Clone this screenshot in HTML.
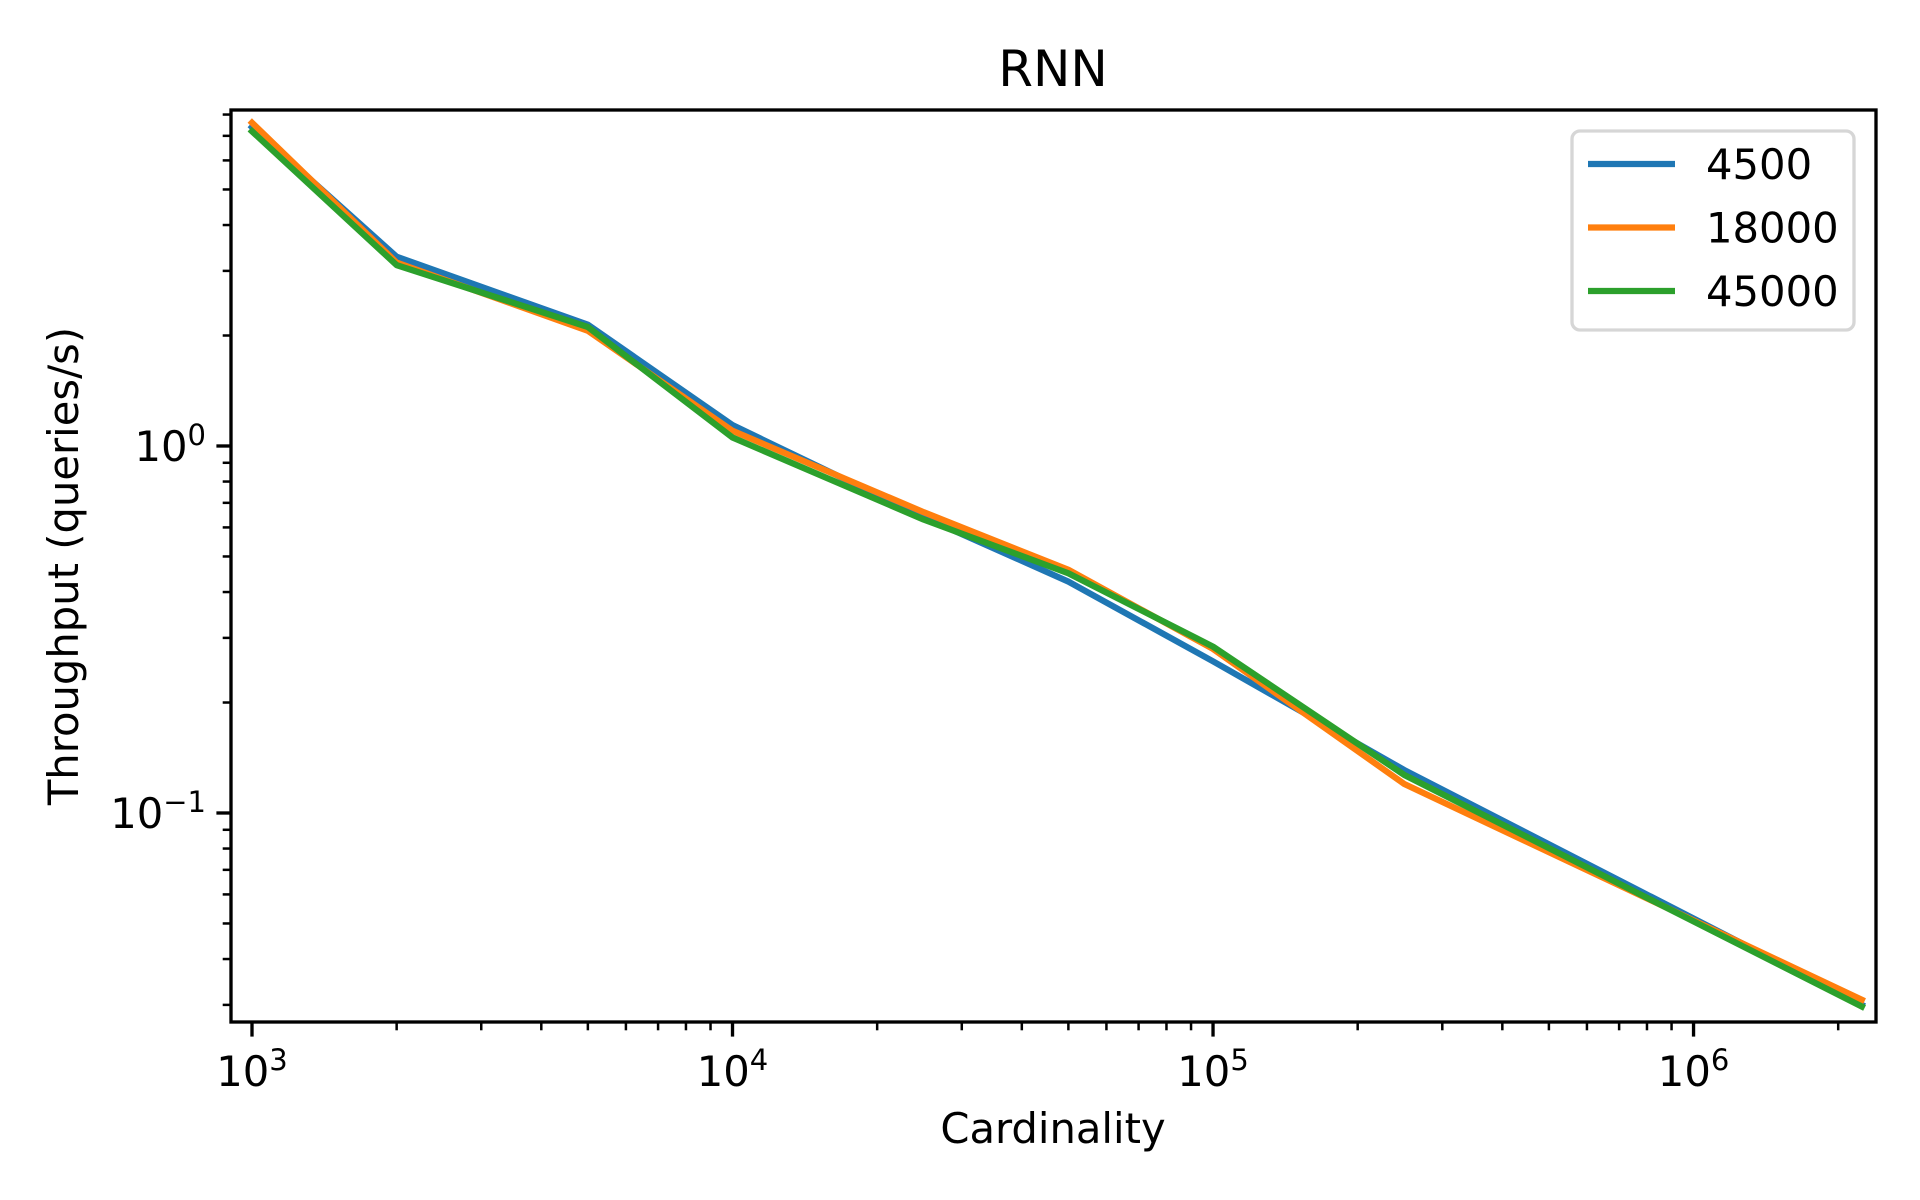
<!DOCTYPE html>
<html><head><meta charset="utf-8"><style>
html,body{margin:0;padding:0;background:#fff}
svg{display:block;font-family:"DejaVu Sans","Liberation Sans",sans-serif}
</style></head><body>
<svg id="chart" width="1920" height="1200" viewBox="0 0 1920 1200" xmlns="http://www.w3.org/2000/svg">
<rect width="1920" height="1200" fill="#fff"/>
<text x="1053" y="86" font-size="50" text-anchor="middle">RNN</text>
<text x="1053" y="1143" font-size="41.7" text-anchor="middle">Cardinality</text>
<text transform="translate(78,566) rotate(-90)" font-size="41.7" text-anchor="middle">Throughput (queries/s)</text>
<g id="plot"></g>
<rect x="231" y="110" width="1645" height="912" fill="none" stroke="#000" stroke-width="3.33"/>
<g>
<rect x="1572" y="131" width="282" height="199" rx="8" fill="#fff" fill-opacity="0.8" stroke="#d6d6d6" stroke-width="3.33"/>
<g id="legend-items"></g>
</g>
</svg>
<script>
const categories = [1000, 2000, 5000, 10000, 25000, 50000, 100000, 250000, 2240000];
const seriesNames = ["4500", "18000", "45000"];
const seriesColors = ["#1f77b4", "#ff7f0e", "#2ca02c"];
const s4500 = [7.4, 3.28, 2.14, 1.14, 0.64, 0.427, 0.259, 0.131, 0.030];
const s18000 = [7.6, 3.16, 2.06, 1.10, 0.66, 0.46, 0.28, 0.12, 0.031];
const s45000 = [7.2, 3.11, 2.11, 1.055, 0.63, 0.45, 0.284, 0.127, 0.0297];
const xTickExps = [3, 4, 5, 6];
const yTickExps = [-1, 0];

const NS = "http://www.w3.org/2000/svg";
const L = 231, R = 1876, T = 110, B = 1022;
const xMin = 2.9563, xMax = 6.3797, yMin = -1.5695, yMax = 0.9155;
function xs(v){ return L + (Math.log10(v) - xMin) / (xMax - xMin) * (R - L); }
function ys(v){ return B - (Math.log10(v) - yMin) / (yMax - yMin) * (B - T); }
const plot = document.getElementById('plot');
function mk(tag, attrs, parent){ const e = document.createElementNS(NS, tag); for (const k in attrs) e.setAttribute(k, attrs[k]); (parent||plot).appendChild(e); return e; }

for (let e = 2; e <= 6; e++) {
  for (let m = 1; m <= 9; m++) {
    const v = m * Math.pow(10, e);
    const lv = Math.log10(v);
    if (lv < xMin - 1e-9 || lv > xMax) continue;
    const x = xs(v);
    const len = m === 1 ? 14.6 : 8.3;
    const t = mk('line', {x1:x, x2:x, y1:B, y2:B+len, stroke:'#000', 'stroke-width': m===1?3.33:2.5});
    
    
  }
}
xTickExps.forEach(e => {
  const x = xs(Math.pow(10, e));
  const t = mk('text', {x:x, y:1086, 'font-size':41.7, 'text-anchor':'middle'});
  
  
  t.innerHTML = '10<tspan dy="-16" font-size="29">' + e + '</tspan>';
});
for (let e = -2; e <= 0; e++) {
  for (let m = 1; m <= 9; m++) {
    const v = m * Math.pow(10, e);
    const lv = Math.log10(v);
    if (lv < yMin || lv > yMax) continue;
    const y = ys(v);
    const len = m === 1 ? 14.6 : 8.3;
    const t = mk('line', {x1:L-len, x2:L, y1:y, y2:y, stroke:'#000', 'stroke-width': m===1?3.33:2.5});
    
    
  }
}
yTickExps.forEach(e => {
  const y = ys(Math.pow(10, e));
  const t = mk('text', {x:206, y:y+15, 'font-size':41.7, 'text-anchor':'end'});
  
  
  t.innerHTML = '10<tspan dy="-16" font-size="29">' + (e < 0 ? '\u2212' + (-e) : e) + '</tspan>';
});
const allSeries = [s4500, s18000, s45000];
allSeries.forEach((s, i) => {
  const pts = s.map((v, j) => xs(categories[j]).toFixed(1) + ',' + ys(v).toFixed(1)).join(' ');
  const p = mk('polyline', {points: pts, fill:'none', stroke: seriesColors[i], 'stroke-width': 6.25, 'stroke-linejoin':'round', 'stroke-linecap':'square'});
  
  
});
const lg = document.getElementById('legend-items');
seriesNames.forEach((n, i) => {
  const y = 164 + i * 63.5;
  const l = mk('line', {x1:1588, x2:1675, y1:y, y2:y, stroke: seriesColors[i], 'stroke-width': 6.25}, lg);
  
  
  const t = mk('text', {x:1706, y:y+15, 'font-size':41.7}, lg);
  
  
  t.textContent = n;
});
</script>
</body></html>
